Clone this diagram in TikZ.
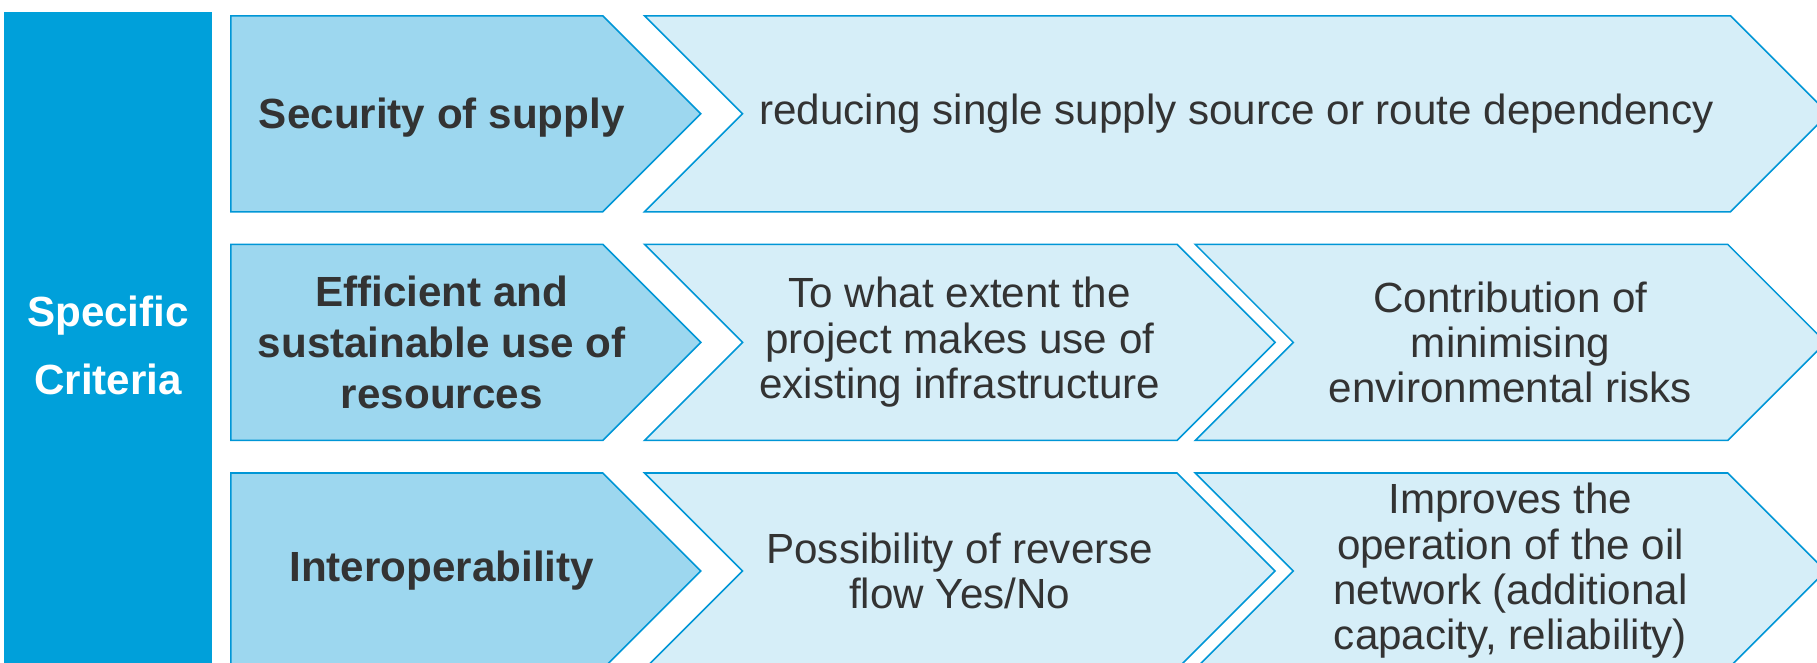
\documentclass[tikz,border=0pt]{standalone}
\usepackage{fontspec}
\setmainfont{Liberation Sans}
\usetikzlibrary{shapes.symbols, positioning}

\definecolor{critblue}{RGB}{0,160,218}
\definecolor{darkfill}{RGB}{157,215,239}
\definecolor{lightfill}{RGB}{214,238,248}
\definecolor{edgeblue}{RGB}{0,150,214}
\definecolor{txtgray}{RGB}{51,51,51}

\begin{document}
\begin{tikzpicture}[x=0.1mm, y=-0.1mm, node distance=3.1mm]
        \tikzstyle{crit}=[draw=none, fill=critblue, text=white, minimum width=20.8mm, minimum height=66.6mm, align=center, font=\bfseries\fontsize{12}{19.3}\selectfont];
        \tikzstyle{head}=[signal, signal to=east, signal from=nowhere, signal pointer angle=90, draw=edgeblue, fill=darkfill, line width=0.45pt, minimum width=47mm, minimum height=19.6mm, inner sep=0pt];
        \tikzstyle{headtext}=[xshift=2.5mm, inner sep=0pt, align=center, text=txtgray, font=\bfseries\fontsize{12}{14.5}\selectfont];
        \tikzstyle{item}=[signal, signal to=east, signal from=west, signal pointer angle=90, draw=edgeblue, fill=lightfill, line width=0.45pt, minimum width=63.05mm, minimum height=19.6mm, inner sep=0pt, align=center, text=txtgray, font=\fontsize{12}{12.9}\selectfont];
        \useasboundingbox (0,0) rectangle (1817,662);
        \clip (0,0) rectangle (1817,662);

        \node[crit] (criteria) at (108,345) {Specific\\Criteria};

        \node[head, anchor=north west, label={[headtext, name=securitytxt, yshift=-0.4mm]center:Security of supply}] (security) at (230,15) {};
        \node[head, below=of security, label={[headtext, name=efficienttxt]center:Efficient and\\sustainable use of\\resources}] (efficient) {};
        \node[head, below=of efficient, label={[headtext, name=interoptxt]center:Interoperability}] (interop) {};

        \node[item, right=3.95mm of security, minimum width=118.4mm] (route) {reducing single supply source or route dependency};
        \node[item, right=3.95mm of efficient] (existing) {To what extent the\\project makes use of\\existing infrastructure};
        \node[item, right=1.6mm of existing] (envrisk) {Contribution of\\minimising\\environmental risks};
        \node[item, right=3.95mm of interop] (reverse) {Possibility of reverse\\flow Yes/No};
        \node[item, right=1.6mm of reverse] (network) {Improves the\\operation of the oil\\network (additional\\capacity, reliability)};
\end{tikzpicture}
\end{document}
